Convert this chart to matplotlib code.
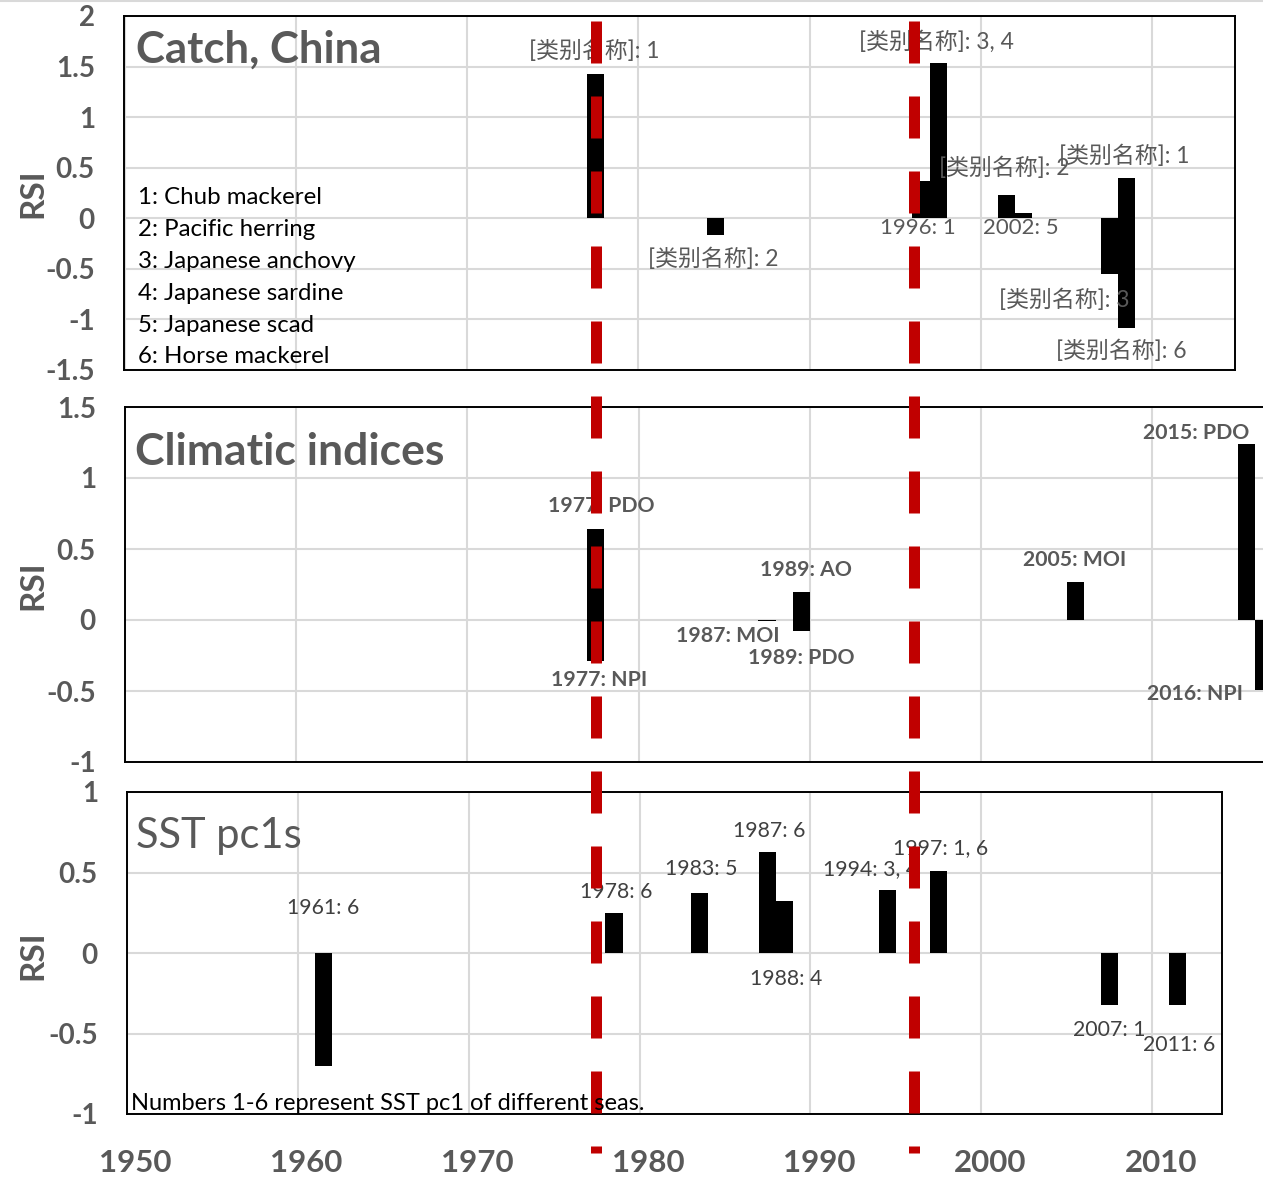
import matplotlib
matplotlib.use("Agg")
import matplotlib.pyplot as plt
from matplotlib.lines import Line2D

plt.rcParams['font.family'] = ['Lato', 'Noto Sans CJK SC', 'DejaVu Sans']

# --- data ---
catch_years = [1977, 1984, 1996, 1997, 2001, 2002, 2007, 2008, 2008]
catch_vals = [1.43, -0.17, 0.37, 1.54, 0.23, 0.05, -0.55, 0.40, -1.08]
catch_lbl_text = ['[类别名称]: 1', '[类别名称]: 2', '[类别名称]: 3, 4', '1996: 1',
                  '[类别名称]: 2', '2002: 5', '[类别名称]: 1', '[类别名称]: 3', '[类别名称]: 6']
catch_lbl_x = [1976.9, 1983.85, 1996.9, 1995.8, 2000.85, 2001.85, 2007.85, 2004.35, 2007.7]
catch_lbl_y = [1.66, -0.40, 1.75, -0.10, 0.50, -0.10, 0.62, -0.81, -1.31]
species = ['1: Chub mackerel', '2: Pacific herring', '3: Japanese anchovy',
           '4: Japanese sardine', '5: Japanese scad', '6: Horse mackerel']

clim_years = [1977, 1977, 1987, 1989, 1989, 2005, 2015, 2016]
clim_vals = [0.64, -0.29, -0.01, 0.20, -0.08, 0.27, 1.24, -0.49]
clim_lbl_text = ['1977: PDO', '1977: NPI', '1987: MOI', '1989: AO', '1989: PDO',
                 '2005: MOI', '2015: PDO', '2016: NPI']
clim_lbl_x = [1977.3, 1977.2, 1984.7, 1989.3, 1989.0, 2005.0, 2012.1, 2012.0]
clim_lbl_y = [0.80, -0.42, -0.11, 0.35, -0.27, 0.42, 1.32, -0.52]

sst_years = [1961, 1978, 1983, 1987, 1988, 1994, 1997, 2007, 2011]
sst_vals = [-0.70, 0.25, 0.37, 0.63, 0.32, 0.39, 0.51, -0.32, -0.32]
sst_lbl_text = ['1961: 6', '1978: 6', '1983: 5', '1987: 6', '1988: 4',
                '1994: 3, 4', '1997: 1, 6', '2007: 1', '2011: 6']
sst_lbl_x = [1961.0, 1978.1, 1983.1, 1987.1, 1988.1, 1993.0, 1997.1, 2007.0, 2011.1]
sst_lbl_y = [0.28, 0.38, 0.52, 0.76, -0.16, 0.52, 0.65, -0.48, -0.57]

regime_shifts = [1977, 1995.6]
decades = [1950, 1960, 1970, 1980, 1990, 2000, 2010]

# --- layout helpers (pixels) ---
W, H = 1263, 1178
GRAY = '#595959'
GRID = '#D9D9D9'


def yr(px):
    return 1979.5 + (px - 638.5) / 17.12


def fx(px):
    return px / W


def fy(py):
    return 1 - py / H


fig = plt.figure(figsize=(W / 100, H / 100), dpi=100)
fig.add_artist(Line2D([0, 1], [fy(1), fy(1)], color=GRID, lw=1.5))


def panel(box, ylim, yticks):
    l, t, r, b = box
    ax = fig.add_axes([fx(l), fy(b), (r - l) / W, (b - t) / H])
    ax.set_xlim(yr(l), yr(r))
    ax.set_ylim(*ylim)
    ax.set_yticks(yticks)
    ax.set_yticklabels([('%g' % v) for v in yticks])
    ax.set_xticks([d - 0.5 for d in decades], minor=True)
    ax.set_xticks([])
    ax.grid(True, which='minor', axis='x', color=GRID, lw=1.5)
    ax.grid(True, which='major', axis='y', color=GRID, lw=1.5)
    ax.set_axisbelow(True)
    ax.tick_params(axis='both', which='both', length=0)
    ax.tick_params(axis='y', pad=21, labelsize=20, labelcolor=GRAY)
    for lab in ax.get_yticklabels():
        lab.set_fontweight('bold')
    for sp in ax.spines.values():
        sp.set_linewidth(1.4)
        sp.set_color('black')
    return ax


# top: catch
ax1 = panel((124, 16, 1235, 370), (-1.5, 2), [-1.5, -1, -0.5, 0, 0.5, 1, 1.5, 2])
ax1.bar(catch_years, catch_vals, width=1.0, color='black', zorder=3)
for s, x, y in zip(catch_lbl_text, catch_lbl_x, catch_lbl_y):
    fs = 16.5 if '[' in s else 16
    ax1.text(x, y, s, ha='center', va='center', fontsize=fs, color=GRAY, zorder=4)
for i, s in enumerate(species):
    fig.text(fx(138), fy(197 + 32 * i), s, ha='left', va='center', fontsize=17.3, color='black')
fig.text(fx(136), fy(50), 'Catch, China', ha='left', va='center', fontsize=31.5,
         fontweight='bold', color=GRAY)

# middle: climatic indices
ax2 = panel((125, 407, 1300, 762), (-1, 1.5), [-1, -0.5, 0, 0.5, 1, 1.5])
ax2.bar(clim_years, clim_vals, width=1.0, color='black', zorder=3)
for s, x, y in zip(clim_lbl_text, clim_lbl_x, clim_lbl_y):
    ax2.text(x, y, s, ha='center', va='center', fontsize=15.3, color=GRAY,
             fontweight='bold', zorder=4)
fig.text(fx(135), fy(452), 'Climatic indices', ha='left', va='center', fontsize=32,
         fontweight='bold', color=GRAY)

# bottom: SST
ax3 = panel((127, 792, 1222, 1114), (-1, 1), [-1, -0.5, 0, 0.5, 1])
ax3.bar(sst_years, sst_vals, width=1.0, color='black', zorder=3)
for s, x, y in zip(sst_lbl_text, sst_lbl_x, sst_lbl_y):
    ax3.text(x, y, s, ha='center', va='center', fontsize=15.3, color='#404040', zorder=4)
fig.text(fx(136), fy(836), 'SST pc1s', ha='left', va='center', fontsize=30, color=GRAY)
fig.text(fx(131), fy(1103), 'Numbers 1-6 represent SST pc1 of different seas.',
         ha='left', va='center', fontsize=17, color='black')
ax3.set_xticks(decades)
ax3.set_xticklabels([str(d) for d in decades])
ax3.tick_params(axis='x', which='major', pad=25.5, labelsize=22.5, labelcolor=GRAY)
for lab in ax3.get_xticklabels():
    lab.set_fontweight('bold')

for py in (193, 585, 955):
    fig.text(fx(33), fy(py), 'RSI', rotation=90, ha='center', va='center',
             fontsize=24, fontweight='bold', color=GRAY)

# red dashed regime-shift lines over everything
ov = fig.add_axes([0, 0, 1, 1], facecolor='none')
ov.set_xlim(yr(0), yr(W))
ov.set_ylim(0, 1)
ov.axis('off')
lw = 11 * 0.72
for x in regime_shifts:
    ov.plot([x, x], [fy(21), fy(1153)], color='#C00000', lw=lw,
            linestyle=(0, (42 * 0.72 / lw, 33 * 0.72 / lw)),
            dash_capstyle='butt', solid_capstyle='butt', zorder=10)

fig.savefig('out.png', dpi=100)
